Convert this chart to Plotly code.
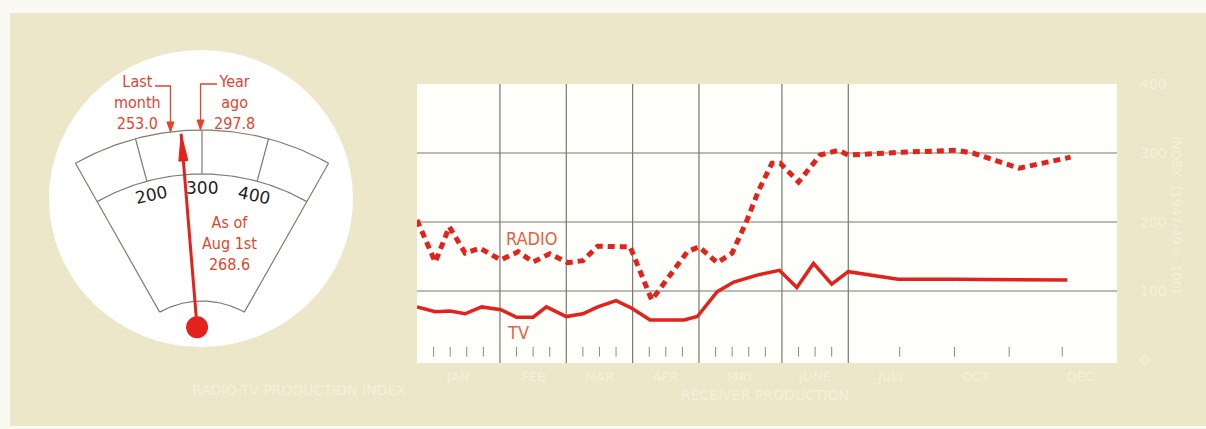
import numpy as np
import plotly.graph_objects as go

# ---------------- data ----------------
# Gauge (index)
gauge_scale = [200, 300, 400]
last_month = 253.0
year_ago = 297.8
current = 268.6

# Weekly chart (x in weeks from start, y in index units)
radio_x = [0, 1.1, 1.95, 2.9, 3.8, 5.05, 6.1, 7.0, 8.0, 9.1, 10.0, 10.9, 12.85, 14.15,
           16.3, 17.0, 18.1, 19.0, 19.9, 20.6, 21.4, 21.9, 23.0, 24.3, 25.4, 26.0,
           29.1, 32.5, 33.5, 36.3, 39.4]
radio_y = [203, 142, 193, 155, 162, 145, 157, 142, 154, 141, 144, 165, 164, 87,
           157, 164, 141, 155, 203, 246, 285, 285, 258, 297, 304, 297,
           301, 304, 300, 278, 294]
tv_x = [0, 1.1, 2.0, 2.9, 3.9, 5.05, 6.0, 7.0, 7.8, 9.0, 10.0, 10.9, 12.0, 12.95,
        14.05, 16.1, 16.9, 18.1, 19.1, 20.5, 21.85, 22.9, 23.9, 25.0, 26.0, 29.0,
        32.35, 39.2]
tv_y = [77, 70, 71, 67, 77, 73, 62, 62, 77, 63, 67, 77, 86, 75,
        58, 58, 63, 99, 113, 123, 130, 105, 140, 110, 128, 117,
        117, 116]

major_weeks = [5, 9, 13, 17, 22, 26]
minor_weeks = [1, 2, 3, 4, 6, 7, 8, 10, 11, 12, 14, 15, 16, 18, 19, 20, 21, 23, 24, 25]
right_ticks = [29.1, 32.4, 35.7, 38.9]
y_grid = [100, 200, 300]
y_ticks = [0, 100, 200, 300, 400]
month_pos = [2.5, 7.05, 11, 15, 19.5, 24, 28.6, 33.7, 40]
month_labels = ["JAN", "FEB", "MAR", "APR", "MAY", "JUNE", "JULY", "OCT", "DEC"]

# ---------------- styles ----------------
W, H = 1206, 429
BEIGE = "#ece7c9"
FAINT = "#f4f0dc"
RED = "#e3231b"
TRED = "#e0462e"
GRID = "#767a6c"
NARROW = "Liberation Sans Narrow, DejaVu Sans Condensed, Arial Narrow, sans-serif"

fig = go.Figure()

# ---------------- main chart ----------------
fig.add_trace(go.Scatter(x=radio_x, y=radio_y, mode="lines",
                         line=dict(color=RED, width=5, dash="7px,5px"),
                         xaxis="x", yaxis="y", hoverinfo="skip"))
fig.add_trace(go.Scatter(x=tv_x, y=tv_y, mode="lines",
                         line=dict(color=RED, width=3.5),
                         xaxis="x", yaxis="y", hoverinfo="skip"))

XMAX = 42.2
YMIN, YMAX = -4.3, 400

shapes = []
# white plot box
shapes.append(dict(type="rect", xref="x", yref="y", x0=0, x1=XMAX, y0=YMIN, y1=YMAX,
                   fillcolor="#fefefb", line=dict(width=0), layer="below"))
for g in y_grid:
    shapes.append(dict(type="line", xref="x", yref="y", x0=0, x1=XMAX, y0=g, y1=g,
                       line=dict(color=GRID, width=1.2), layer="below"))
for m in major_weeks:
    shapes.append(dict(type="line", xref="x", yref="y", x0=m, x1=m, y0=YMIN, y1=YMAX,
                       line=dict(color=GRID, width=1.2), layer="below"))
for m in minor_weeks + right_ticks:
    shapes.append(dict(type="line", xref="x", yref="y", x0=m, x1=m, y0=5, y1=19,
                       line=dict(color="#8a8a80", width=1), layer="below"))

# page edges (scan border)
shapes.append(dict(type="rect", xref="paper", yref="paper", x0=0, x1=1,
                   y0=(H - 13) / H, y1=1, fillcolor="#fbfaf2", line=dict(width=0), layer="below"))
shapes.append(dict(type="rect", xref="paper", yref="paper", x0=0, x1=10 / W,
                   y0=0, y1=1, fillcolor="#fbfaf2", line=dict(width=0), layer="below"))
shapes.append(dict(type="rect", xref="paper", yref="paper", x0=0, x1=1,
                   y0=0, y1=3 / H, fillcolor="#fbfaf2", line=dict(width=0), layer="below"))

# ---------------- gauge (dial axes in pixel-like units) ----------------
CX, CY = 202, 387
R_OUT, R_LAB, R_IN = 257, 213, 86
EDGE = 29.5
DEG_PER_UNIT = 0.15


def ang(v):
    return (v - 300) * DEG_PER_UNIT


def pt(r, a):
    t = np.radians(a)
    return CX + r * np.sin(t), CY - r * np.cos(t)


shapes.append(dict(type="circle", xref="x2", yref="y2", x0=49, x1=353, y0=50, y1=347,
                   fillcolor="#ffffff", line=dict(width=0), layer="below"))

dial_x, dial_y = [], []
for r in (R_OUT, R_LAB, R_IN):
    a = np.linspace(-EDGE, EDGE, 80)
    xs, ys = pt(r, a)
    dial_x += list(xs) + [None]
    dial_y += list(ys) + [None]
for a in (-EDGE, EDGE):
    x0, y0 = pt(R_IN, a)
    x1, y1 = pt(R_OUT, a)
    dial_x += [x0, x1, None]
    dial_y += [y0, y1, None]
for v in gauge_scale:
    x0, y0 = pt(R_LAB, ang(v))
    x1, y1 = pt(R_OUT, ang(v))
    dial_x += [x0, x1, None]
    dial_y += [y0, y1, None]
fig.add_trace(go.Scatter(x=dial_x, y=dial_y, mode="lines",
                         line=dict(color="#7d7d70", width=1.2),
                         xaxis="x2", yaxis="y2", hoverinfo="skip"))


def arrow_head(tipx, tipy, dx, dy, length, half):
    n = np.hypot(dx, dy)
    ux, uy = dx / n, dy / n
    bx, by = tipx - ux * length, tipy - uy * length
    px, py = -uy, ux
    return ([tipx, bx + px * half, bx - px * half, tipx],
            [tipy, by + py * half, by - py * half, tipy])


# needle
a_cur = ang(current)
px0, py0 = pt(60, a_cur)
tx, ty = pt(254, a_cur)
fig.add_trace(go.Scatter(x=[px0, tx], y=[py0, ty], mode="lines",
                         line=dict(color=RED, width=3), xaxis="x2", yaxis="y2", hoverinfo="skip"))
hx, hy = arrow_head(tx, ty, tx - px0, ty - py0, 27, 4.5)
fig.add_trace(go.Scatter(x=hx, y=hy, mode="lines", fill="toself", fillcolor=RED,
                         line=dict(color=RED, width=1), xaxis="x2", yaxis="y2", hoverinfo="skip"))
fig.add_trace(go.Scatter(x=[px0], y=[py0], mode="markers",
                         marker=dict(color=RED, size=22, line=dict(width=0)),
                         xaxis="x2", yaxis="y2", hoverinfo="skip"))

# last month / year ago pointers
for v, lead_x, ly in ((last_month, 155, 86), (year_ago, 217, 84)):
    ax_, ay_ = pt(R_OUT, ang(v))
    xs = [lead_x, ax_, ax_]
    ys = [ly, ly, ay_ - 8]
    fig.add_trace(go.Scatter(x=xs, y=ys, mode="lines", line=dict(color=TRED, width=1.3),
                             xaxis="x2", yaxis="y2", hoverinfo="skip"))
    hx, hy = arrow_head(ax_, ay_, 0, 1, 10, 3.5)
    fig.add_trace(go.Scatter(x=hx, y=hy, mode="lines", fill="toself", fillcolor=TRED,
                             line=dict(color=TRED, width=1), xaxis="x2", yaxis="y2",
                             hoverinfo="skip"))

annotations = []


def dtext(x, y, s, size=16, color=TRED, font=NARROW, angle=0):
    annotations.append(dict(x=x, y=y, xref="x2", yref="y2", text=s, showarrow=False,
                            font=dict(family=font, size=size, color=color),
                            textangle=angle, xanchor="center", yanchor="middle",
                            align="center"))


dtext(137, 102, f"Last<br>month<br>{last_month:.1f}")
dtext(234, 102, f"Year<br>ago<br>{year_ago:.1f}")
dtext(229, 243, f"As of<br>Aug 1st<br>{current:.1f}", size=16)
for v in gauge_scale:
    lx, ly = pt(199, ang(v))
    dtext(lx, ly, str(v), size=17, color="#222222", font="DejaVu Sans, sans-serif",
          angle=ang(v) * 0.8)

# series labels
annotations.append(dict(x=(532 - 417) / 16.58, y=(360 - 238) / 0.69, xref="x", yref="y",
                        text="RADIO", showarrow=False,
                        font=dict(family=NARROW, size=18, color="#e8603f")))
annotations.append(dict(x=(518 - 417) / 16.58, y=(360 - 332) / 0.69, xref="x", yref="y",
                        text="TV", showarrow=False,
                        font=dict(family=NARROW, size=18, color="#e8603f")))

# faint printed text (washed out in the scan)
annotations.append(dict(x=1186 / W, y=(H - 215) / H, xref="paper", yref="paper",
                        text="INDEX  (1947-49 = 100)", showarrow=False, textangle=90,
                        font=dict(family="DejaVu Sans", size=13, color=FAINT)))
annotations.append(dict(x=765 / W, y=(H - 405) / H, xref="paper", yref="paper",
                        text="RECEIVER PRODUCTION", showarrow=False,
                        font=dict(family="DejaVu Sans", size=14, color=FAINT)))
annotations.append(dict(x=190 / W, y=(H - 400) / H, xref="paper", yref="paper",
                        text="RADIO-TV PRODUCTION INDEX", showarrow=False,
                        font=dict(family="DejaVu Sans", size=14, color=FAINT)))

fig.update_layout(
    width=W, height=H, autosize=False,
    margin=dict(l=0, r=0, t=0, b=0, pad=0, autoexpand=False),
    paper_bgcolor=BEIGE, plot_bgcolor=BEIGE,
    showlegend=False,
    shapes=shapes, annotations=annotations,
    xaxis=dict(domain=[417 / W, 1117 / W], range=[0, XMAX], anchor="y",
               showgrid=False, zeroline=False, showline=False, automargin=False,
               tickmode="array", tickvals=month_pos, ticktext=month_labels,
               ticks="", tickfont=dict(family="DejaVu Sans", size=13, color=FAINT),
               ticklabelstandoff=4, fixedrange=True),
    yaxis=dict(domain=[(H - 363) / H, (H - 84) / H], range=[YMIN, YMAX], anchor="x",
               side="right", showgrid=False, zeroline=False, showline=False,
               automargin=False,
               tickmode="array", tickvals=y_ticks, ticks="",
               tickfont=dict(family="DejaVu Sans", size=14, color=FAINT),
               ticklabelstandoff=22, fixedrange=True),
    xaxis2=dict(domain=[0, 410 / W], range=[0, 410], anchor="y2", visible=False,
                automargin=False, fixedrange=True),
    yaxis2=dict(domain=[0, 1], range=[H, 0], anchor="x2", visible=False,
                automargin=False, fixedrange=True),
)

fig.write_html("out.html",
               post_script="document.body.style.margin='0';document.body.style.overflow='hidden';")
